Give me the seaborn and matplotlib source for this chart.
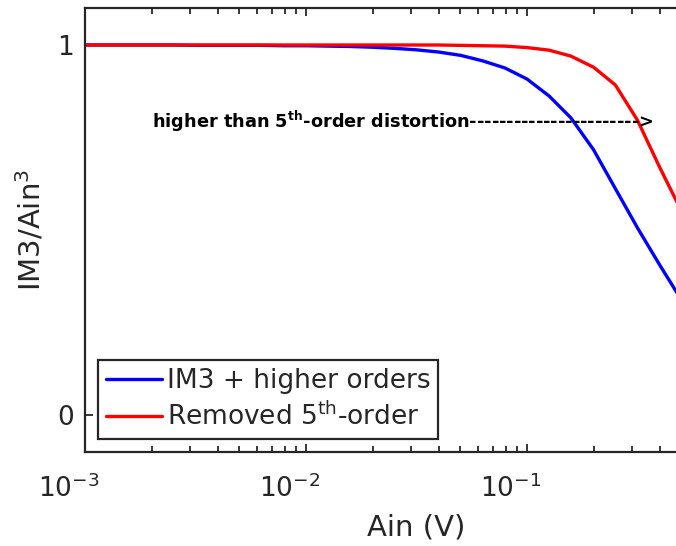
import numpy as np
import pandas as pd
import matplotlib
matplotlib.use('Agg')
import matplotlib.pyplot as plt
import matplotlib.transforms as mtransforms
import seaborn as sns

# input amplitude (V), ten points per decade
ain = [0.001, 0.00126, 0.00158, 0.002, 0.00251, 0.00316, 0.00398, 0.00501, 0.00631, 0.00794,
       0.01, 0.0126, 0.0158, 0.02, 0.0251, 0.0316, 0.0398, 0.0501, 0.0631, 0.0794,
       0.1, 0.126, 0.158, 0.2, 0.251, 0.316, 0.398, 0.501]
im3_higher = [1.0, 1.0, 1.0, 1.0, 1.0, 0.999, 0.999, 0.999, 0.999, 0.998,
              0.998, 0.997, 0.996, 0.994, 0.991, 0.987, 0.981, 0.972, 0.957, 0.938,
              0.908, 0.862, 0.803, 0.717, 0.612, 0.506, 0.406, 0.31]
removed_5th = [1.0, 1.0, 1.0, 1.0, 1.0, 1.0, 1.0, 1.0, 1.0, 1.0,
               1.0, 1.0, 1.0, 1.0, 1.0, 1.0, 1.0, 0.999, 0.998, 0.997,
               0.993, 0.986, 0.970, 0.940, 0.892, 0.797, 0.67, 0.55]
labels = ['IM3 + higher orders', 'Removed 5$^{\\rm th}$-order']
colors = ['#0000ff', '#ff0000']
xticks = [1e-3, 1e-2, 1e-1]
yticks = [0, 1]

df = pd.DataFrame({'ain': ain, 'higher': im3_higher, 'removed': removed_5th})

sns.set_style('ticks')
plt.rcParams['font.family'] = ['DejaVu Sans']
plt.rcParams['mathtext.fontset'] = 'dejavusans'
ink = '#262626'

fig = plt.figure(figsize=(6.76, 5.46), dpi=100)
ax = fig.add_axes([85 / 676, 94 / 546, 663 / 676, 444 / 546])

sns.lineplot(data=df, x='ain', y='higher', color=colors[0], linewidth=2.4, label=labels[0], ax=ax)
sns.lineplot(data=df, x='ain', y='removed', color=colors[1], linewidth=2.4, label=labels[1], ax=ax)

ax.set_xscale('log')
ax.set_xlim(1e-3, 1)
ax.set_ylim(-0.1, 1.1)
ax.set_xticks(xticks)
ax.set_yticks(yticks)
ax.set_yticklabels([str(v) for v in yticks])

for s in ax.spines.values():
    s.set_visible(True)
    s.set_linewidth(1.6)
    s.set_color(ink)
ax.tick_params(which='both', direction='in', top=True, right=True, colors=ink, width=1.3)
ax.tick_params(which='major', length=6, labelsize=19)
ax.tick_params(which='minor', length=4)
ax.tick_params(axis='x', pad=16)
ax.tick_params(axis='y', pad=8)
shift = mtransforms.ScaledTranslation(-0.16, 0, fig.dpi_scale_trans)
for t in ax.get_xticklabels():
    t.set_transform(t.get_transform() + shift)

ax.set_xlabel('Ain (V)', fontsize=21, color=ink, labelpad=8)
ax.set_ylabel('IM3/Ain$^3$', fontsize=21, color=ink, labelpad=8)

ax.text(0.00201, 0.794, 'higher than 5$^{\\mathbf{th}}$-order distortion----------------------->',
        fontsize=12.8, fontweight='bold', color='black', va='center', ha='left')

leg = ax.legend(loc='lower left', bbox_to_anchor=(0.02, 0.03), fontsize=19, handlelength=2.1,
                handletextpad=0.2, borderpad=0.3, labelspacing=0.3, fancybox=False,
                framealpha=1, borderaxespad=0)
leg.get_frame().set_edgecolor(ink)
leg.get_frame().set_linewidth(1.6)

fig.savefig('out.png', dpi=100)
